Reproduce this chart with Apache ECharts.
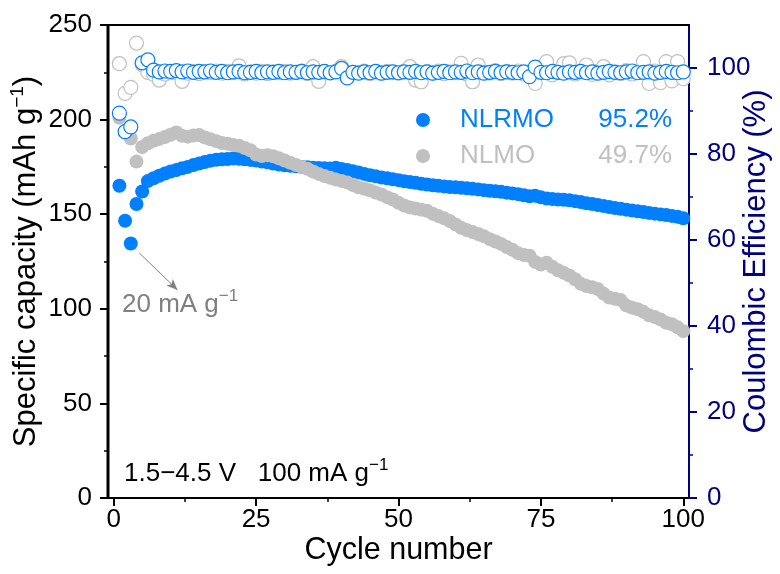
<!DOCTYPE html>
<html>
<head>
<meta charset="utf-8">
<script src="https://cdn.jsdelivr.net/npm/echarts@6/dist/echarts.min.js"></script>
<style>
html,body{margin:0;padding:0;background:#fff;}
#chart{width:780px;height:574px;}
</style>
</head>
<body>
<div id="chart"></div>
<script>
// ---------- data ----------
const cycles = Array.from({length: 100}, (_, i) => i + 1);

const capNLRMO = [
165.0,146.5,134.5,155.4,162.0,167.5,169.0,170.3,171.5,172.6,
173.4,174.3,175.0,176.0,176.8,177.6,178.3,178.8,179.0,179.2,
179.5,179.3,179.0,178.7,178.4,177.8,177.4,176.8,176.3,175.9,
175.6,175.3,175.0,174.8,174.6,174.4,174.3,174.1,174.6,173.9,
173.3,172.7,172.1,171.3,170.6,170.0,169.4,169.0,168.5,168.0,
167.4,167.0,166.6,166.1,165.7,165.3,165.0,164.7,164.4,164.2,
164.0,163.7,163.4,163.1,162.7,162.4,162.1,161.8,161.4,161.0,
160.6,160.0,159.5,159.8,158.9,158.3,158.0,157.8,157.6,157.4,
156.9,156.4,155.8,155.4,154.9,154.3,153.8,153.3,152.9,152.4,
151.9,151.5,151.1,150.7,150.3,149.9,149.6,149.1,148.6,147.8
];

const capNLMO = [
201.0,193.0,190.0,177.8,185.5,187.5,188.8,189.8,190.8,192.0,
193.2,191.5,191.0,191.6,191.8,190.6,189.6,188.6,187.6,187.2,
186.6,186.2,185.0,183.8,181.5,180.8,181.2,180.6,179.6,178.4,
177.2,176.0,175.0,174.0,172.6,171.3,170.2,169.3,168.3,167.6,
166.8,165.4,164.2,163.4,162.6,161.5,160.4,159.0,157.8,156.0,
154.6,153.6,153.0,152.4,151.8,150.3,149.0,147.8,146.4,144.6,
142.8,141.6,140.6,139.5,138.3,136.8,135.6,134.3,132.6,131.2,
129.4,128.4,128.0,124.8,123.4,124.4,122.2,120.4,119.0,117.6,
115.6,113.2,112.0,111.4,110.4,108.0,106.0,105.3,104.6,101.8,
100.6,99.8,98.4,96.6,95.6,94.4,92.6,91.8,90.2,88.2
];

const ceNLRMO = [
89.5,85.2,86.3,null,101.2,101.9,99.5,99.1,99.3,99.2,
99.4,99.1,99.3,99.0,99.2,99.1,99.3,99.0,99.2,98.9,
99.1,99.2,98.9,99.0,99.2,98.9,99.1,99.0,99.2,98.9,
99.1,99.0,99.2,98.9,99.1,99.0,99.2,98.9,99.1,99.9,
97.7,99.0,98.8,99.1,98.9,99.2,98.8,99.0,99.1,98.9,
99.1,99.0,99.2,98.9,99.1,98.8,99.0,99.2,98.9,99.1,
99.0,99.3,98.9,99.1,98.8,99.0,99.2,98.9,99.1,99.0,
98.9,99.1,98.0,100.2,99.0,98.9,99.2,99.0,98.8,99.1,
99.0,99.2,98.9,99.1,98.8,99.0,99.2,99.0,98.9,99.1,
99.3,98.9,99.0,99.1,98.8,99.0,99.2,99.0,98.9,99.1
];

const ceNLMO = [
101.0,94.1,95.5,105.8,100.8,99.0,98.5,97.2,98.6,98.9,
99.0,96.9,98.8,99.2,98.7,99.1,98.9,99.3,98.8,99.2,
99.0,100.5,98.6,99.1,98.8,99.2,98.7,99.1,98.9,99.2,
98.8,99.0,99.3,98.7,100.3,96.9,99.1,98.8,99.2,100.3,
98.6,99.0,98.9,99.3,98.7,99.1,98.8,99.2,99.0,98.8,
99.3,100.3,97.2,96.8,99.1,98.8,99.3,98.7,99.1,98.9,
101.1,98.6,96.8,100.7,99.0,98.8,99.4,98.7,99.2,98.8,
99.3,98.6,99.1,96.4,99.6,101.5,98.4,99.2,101.0,101.2,
98.6,99.3,100.7,98.5,99.2,100.3,98.4,99.1,98.7,99.4,
98.6,99.2,101.5,96.4,99.3,96.6,101.5,97.0,101.5,97.5
];

const seriesNames = ['NLRMO', 'NLMO'];
const retention = ['95.2%', '49.7%'];

const X_MIN = -1, X_MAX = 101;
const Y_MIN = 0, Y_MAX = 250;
const xMajorTicks = [0, 25, 50, 75, 100];
const xMinorTicks = [12.5, 37.5, 62.5, 87.5];
const yLeftMajor = [0, 50, 100, 150, 200, 250];
const yLeftMinor = [25, 75, 125, 175, 225];
const yRightMajor = [0, 20, 40, 60, 80, 100];
const yRightMinor = [10, 30, 50, 70, 90];

// arrow annotation (data coordinates: cycle, capacity)
const arrowFrom = [4.5, 129.5];
const arrowTo = [11.2, 110.0];

// ---------- style ----------
const FONT = 'Arial, "Liberation Sans", Helvetica, sans-serif';
const BLUE = '#0080FF';
const GRAY = '#C0C0C0';
const NAVY = '#000080';
const DARKGRAY = '#808080';

function pairs(arr) { return cycles.map((c, i) => [c, arr[i]]); }

const supRich = (color, size, supSize, lh) => ({
  a: {fontSize: size, lineHeight: lh, color: color, fill: color, fontFamily: FONT},
  s: {fontSize: supSize, lineHeight: supSize, verticalAlign: 'top', color: color, fill: color, fontFamily: FONT}
});

const chart = echarts.init(document.getElementById('chart'), null, {renderer: 'canvas'});

const hiddenAxisBits = {axisLabel: {show: false}, splitLine: {show: false}, splitArea: {show: false}};

const option = {
  animation: false,
  backgroundColor: '#fff',
  textStyle: {fontFamily: FONT},
  grid: {left: 108, right: 91, top: 25, bottom: 76, containLabel: false, outerBoundsMode: 'none',
         show: true, borderColor: '#000', borderWidth: 2, backgroundColor: 'transparent'},
  legend: {
    orient: 'vertical',
    left: 416,
    top: 107,
    padding: 0,
    itemGap: 10,
    itemWidth: 14,
    itemHeight: 14,
    icon: 'circle',
    selectedMode: false,
    data: seriesNames,
    formatter: function (name) {
      const i = seriesNames.indexOf(name);
      return i === 0
        ? '{sp|}{nb|' + name + '}{pb|' + retention[i] + '}'
        : '{sp|}{ng|' + name + '}{pg|' + retention[i] + '}';
    },
    textStyle: {
      fontFamily: FONT,
      rich: {
        sp: {width: 25},
        nb: {width: 140, fontSize: 26, color: BLUE, fontFamily: FONT},
        pb: {width: 72, align: 'right', fontSize: 26, color: BLUE, fontFamily: FONT},
        ng: {width: 140, fontSize: 26, color: GRAY, fontFamily: FONT},
        pg: {width: 72, align: 'right', fontSize: 26, color: GRAY, fontFamily: FONT}
      }
    }
  },
  xAxis: [
    {
      type: 'value', min: X_MIN, max: X_MAX, position: 'bottom',
      name: 'Cycle number', nameLocation: 'middle', nameGap: 37, nameMoveOverlap: false,
      nameTextStyle: {fontSize: 30.5, color: '#000', fontFamily: FONT},
      axisLine: {show: true, onZero: false, lineStyle: {color: '#000', width: 2}},
      axisTick: {show: true, customValues: xMajorTicks, length: 8, lineStyle: {color: '#000', width: 2}},
      axisLabel: {show: true, customValues: xMajorTicks, fontSize: 26, color: '#000', margin: 9, fontFamily: FONT},
      splitLine: {show: false}
    },
    Object.assign({
      type: 'value', min: X_MIN, max: X_MAX, position: 'bottom',
      axisLine: {show: false, onZero: false},
      axisTick: {show: true, customValues: xMinorTicks, length: 4, lineStyle: {color: '#000', width: 1.5}}
    }, hiddenAxisBits),
    Object.assign({
      type: 'value', min: X_MIN, max: X_MAX, position: 'top',
      axisLine: {show: true, onZero: false, lineStyle: {color: '#000', width: 2}},
      axisTick: {show: false}
    }, hiddenAxisBits)
  ],
  yAxis: [
    {
      type: 'value', min: Y_MIN, max: Y_MAX, position: 'left',
      name: '{a|Specific capacity (mAh g}{s|−1}{a|)}',
      nameLocation: 'middle', nameRotate: 90, nameGap: 64, nameMoveOverlap: false,
      nameTextStyle: {rich: supRich('#000', 31, 19, 36)},
      axisLine: {show: true, onZero: false, lineStyle: {color: '#000', width: 2}},
      axisTick: {show: true, customValues: yLeftMajor, length: 8, lineStyle: {color: '#000', width: 2}},
      axisLabel: {show: true, customValues: yLeftMajor, fontSize: 26, color: '#000', margin: 16, fontFamily: FONT},
      splitLine: {show: false}
    },
    {
      type: 'value', min: 0, max: 110, position: 'right',
      name: 'Coulombic Efficiency (%)',
      nameLocation: 'middle', nameRotate: 90, nameGap: 52, nameMoveOverlap: false,
      nameTextStyle: {fontSize: 31, color: NAVY, fontFamily: FONT},
      axisLine: {show: true, onZero: false, lineStyle: {color: NAVY, width: 2}},
      axisTick: {show: true, customValues: yRightMajor, length: 8, lineStyle: {color: NAVY, width: 2}},
      axisLabel: {show: true, customValues: yRightMajor, fontSize: 26, color: NAVY, margin: 18, fontFamily: FONT},
      splitLine: {show: false}
    },
    Object.assign({
      type: 'value', min: 0, max: 110, position: 'right',
      axisLine: {show: false, onZero: false},
      axisTick: {show: true, customValues: yRightMinor, length: 4, lineStyle: {color: NAVY, width: 1.5}}
    }, hiddenAxisBits),
    Object.assign({
      type: 'value', min: Y_MIN, max: Y_MAX, position: 'left',
      axisLine: {show: false, onZero: false},
      axisTick: {show: true, customValues: yLeftMinor, length: 4, lineStyle: {color: '#000', width: 1.5}}
    }, hiddenAxisBits)
  ],
  series: [
    {
      name: 'NLRMO', type: 'scatter', xAxisIndex: 0, yAxisIndex: 0,
      data: pairs(capNLRMO), symbol: 'circle', symbolSize: 14,
      itemStyle: {color: BLUE, opacity: 1},
      emphasis: {disabled: true},
      markLine: {
        silent: true, animation: false,
        symbol: ['none', 'arrow'], symbolSize: [7, 11],
        lineStyle: {color: DARKGRAY, width: 1, type: 'solid'},
        label: {show: false},
        data: [[{coord: arrowFrom}, {coord: arrowTo}]]
      }
    },
    {
      name: 'NLMO', type: 'scatter', xAxisIndex: 0, yAxisIndex: 0,
      data: pairs(capNLMO), symbol: 'circle', symbolSize: 14,
      itemStyle: {color: GRAY, opacity: 1},
      emphasis: {disabled: true}
    },
    {
      name: 'NLMO CE', type: 'scatter', xAxisIndex: 0, yAxisIndex: 1,
      data: pairs(ceNLMO), symbol: 'circle', symbolSize: 14,
      itemStyle: {color: '#fff', borderColor: GRAY, borderWidth: 1.2, opacity: 1},
      emphasis: {disabled: true}
    },
    {
      name: 'NLRMO CE', type: 'scatter', xAxisIndex: 0, yAxisIndex: 1,
      data: pairs(ceNLRMO), symbol: 'circle', symbolSize: 14,
      itemStyle: {color: '#fff', borderColor: BLUE, borderWidth: 1.2, opacity: 1},
      emphasis: {disabled: true}
    }
  ],
  graphic: [
    {
      id: 'note20', type: 'text', left: 122, top: 288, silent: true,
      style: {text: '{a|20 mA g}{s|−1}', fill: DARKGRAY, rich: supRich(DARKGRAY, 26, 17, 34)}
    },
    {
      id: 'noteCond', type: 'text', left: 124, top: 457, silent: true,
      style: {text: '{a|1.5−4.5 V   100 mA g}{s|−1}', fill: '#000', rich: supRich('#000', 26, 17, 34)}
    }
  ]
};

chart.setOption(option);

// Left frame line drawn on top, located through the axes' own scales
const pBottom = chart.convertToPixel({xAxisIndex: 0, yAxisIndex: 0}, [X_MIN, Y_MIN]);
const pTop = chart.convertToPixel({xAxisIndex: 0, yAxisIndex: 0}, [X_MIN, Y_MAX]);
chart.setOption({
  graphic: [{
    id: 'leftFrame', type: 'rect', silent: true, z: 100,
    shape: {x: pBottom[0] - 1.5, y: pTop[1] - 1, width: 3, height: pBottom[1] - pTop[1] + 2},
    style: {fill: '#000'}
  }]
});
</script>
</body>
</html>
